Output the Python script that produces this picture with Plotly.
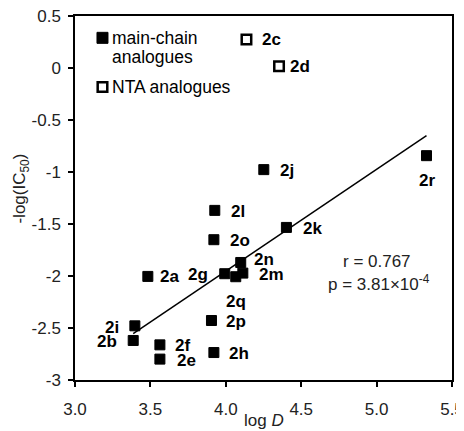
import numpy as np
import plotly.graph_objects as go

# ---- data ----
main_labels = ["2a", "2b", "2e", "2f", "2g", "2h", "2i", "2j", "2k", "2l",
               "2m", "2n", "2o", "2p", "2q", "2r"]
main_logD = [3.483, 3.386, 3.563, 3.563, 3.993, 3.921, 3.397, 4.252, 4.402, 3.927,
             4.113, 4.099, 3.921, 3.905, 4.066, 5.331]
main_pIC50 = [-2.004, -2.620, -2.799, -2.662, -1.978, -2.736, -2.479, -0.977, -1.533, -1.369,
              -1.972, -1.870, -1.651, -2.428, -2.007, -0.843]

nta_labels = ["2c", "2d"]
nta_logD = [4.137, 4.353]
nta_pIC50 = [0.274, 0.017]

x_ticks = [3.0, 3.5, 4.0, 4.5, 5.0, 5.5]
x_ticktext = ["3.0", "3.5", "4.0", "4.5", "5.0", "5.5"]
y_ticks = [0.5, 0, -0.5, -1, -1.5, -2, -2.5, -3]
y_ticktext = ["0.5", "0", "-0.5", "-1", "-1.5", "-2", "-2.5", "-3"]

stats_r = "r = 0.767"
stats_p = "p = 3.81×10<sup>-4</sup>"

# ---- label offsets (pixels) ----
label_offsets = {
    "2a": (22, 0), "2b": (-26, -1), "2c": (25, 0), "2d": (21, 0),
    "2e": (27, -1), "2f": (23, -1), "2g": (-27, -1), "2h": (25, -1),
    "2i": (-23, -2), "2j": (23, -1), "2k": (26, -1), "2l": (23, -1),
    "2m": (29, -1), "2n": (23, 3), "2o": (26, -1), "2p": (25, -1),
    "2q": (0, -25), "2r": (0, -25),
}

FONT = "Liberation Sans, Arial, sans-serif"

# regression line for main-chain analogues
slope, intercept = np.polyfit(main_logD, main_pIC50, 1)
fit_x = np.array([min(main_logD), max(main_logD)])
fit_y = slope * fit_x + intercept

fig = go.Figure()
fig.add_trace(go.Scatter(x=fit_x, y=fit_y, mode="lines",
                         line=dict(color="black", width=1.5), showlegend=False,
                         hoverinfo="skip"))
fig.add_trace(go.Scatter(x=main_logD, y=main_pIC50, mode="markers",
                         marker=dict(symbol="square", size=10, color="black",
                                     line=dict(color="black", width=1)),
                         showlegend=False, name="main-chain analogues"))
fig.add_trace(go.Scatter(x=nta_logD, y=nta_pIC50, mode="markers",
                         marker=dict(symbol="square", size=9.5, color="white",
                                     line=dict(color="black", width=2.5)),
                         showlegend=False, name="NTA analogues"))

annotations = []
for lab, xv, yv in list(zip(main_labels, main_logD, main_pIC50)) + list(zip(nta_labels, nta_logD, nta_pIC50)):
    dx, dy = label_offsets[lab]
    annotations.append(dict(x=xv, y=yv, xref="x", yref="y", text=lab, showarrow=False,
                            xshift=dx, yshift=dy, xanchor="center", yanchor="middle",
                            font=dict(family=FONT, size=17, color="black", weight="bold")))

# legend texts
for txt, yp in [("main-chain", 0.9404), ("analogues", 0.888), ("NTA analogues", 0.806)]:
    annotations.append(dict(x=0.092, y=yp, xref="paper", yref="paper", text=txt,
                            showarrow=False, xanchor="left", yanchor="middle",
                            font=dict(family=FONT, size=17.5, color="black")))

annotations.append(dict(x=0.801, y=0.325, xref="paper", yref="paper", text=stats_r,
                        showarrow=False, xanchor="center", yanchor="middle",
                        font=dict(family=FONT, size=17, color="#222")))
annotations.append(dict(x=0.806, y=0.266, xref="paper", yref="paper", text=stats_p,
                        showarrow=False, xanchor="center", yanchor="middle",
                        font=dict(family=FONT, size=17, color="#222")))
# axis titles
annotations.append(dict(x=-0.1432, y=0.526, xref="paper", yref="paper",
                        text="-log(IC<sub>50</sub>)", textangle=-90, showarrow=False,
                        xanchor="center", yanchor="middle",
                        font=dict(family=FONT, size=17, color="#222")))
annotations.append(dict(x=0.5, y=-0.1126, xref="paper", yref="paper",
                        text="log <i>D</i>", showarrow=False,
                        xanchor="center", yanchor="middle",
                        font=dict(family=FONT, size=17, color="#222")))

shapes = [
    dict(type="rect", xref="paper", yref="paper", xsizemode="pixel", ysizemode="pixel",
         xanchor=0.0729, yanchor=0.940, x0=-5.5, x1=5.5, y0=-5.5, y1=5.5,
         fillcolor="black", line=dict(color="black", width=1)),
    dict(type="rect", xref="paper", yref="paper", xsizemode="pixel", ysizemode="pixel",
         xanchor=0.0729, yanchor=0.805, x0=-4.8, x1=4.8, y0=-4.8, y1=4.8,
         fillcolor="white", line=dict(color="black", width=2.5)),
]

# page body has an 8px default margin, so the figure is 8px smaller and margins reduced
fig.update_layout(
    template="none",
    width=456, height=423,
    margin=dict(l=67, r=12, t=8, b=51, autoexpand=False),
    paper_bgcolor="white", plot_bgcolor="white",
    font=dict(family=FONT, size=17, color="#222"),
    annotations=annotations, shapes=shapes, showlegend=False,
)
fig.update_xaxes(range=[3.0, 5.5], tickvals=x_ticks, ticktext=x_ticktext,
                 automargin=False, ticklabeloverflow="allow",
                 showgrid=False, zeroline=False, showline=True, mirror=True,
                 linecolor="black", linewidth=1.5, ticks="outside", ticklen=5,
                 tickwidth=1.5, tickcolor="black", ticklabelstandoff=8,
                 tickfont=dict(family=FONT, size=17, color="#222"))
fig.update_yaxes(range=[-3.0, 0.5], tickvals=y_ticks, ticktext=y_ticktext,
                 automargin=False, ticklabeloverflow="allow",
                 showgrid=False, zeroline=False, showline=True, mirror=True,
                 linecolor="black", linewidth=1.5, ticks="outside", ticklen=5,
                 tickwidth=1.5, tickcolor="black", ticklabelstandoff=4,
                 tickfont=dict(family=FONT, size=17, color="#222"))

fig.write_html("out.html")
